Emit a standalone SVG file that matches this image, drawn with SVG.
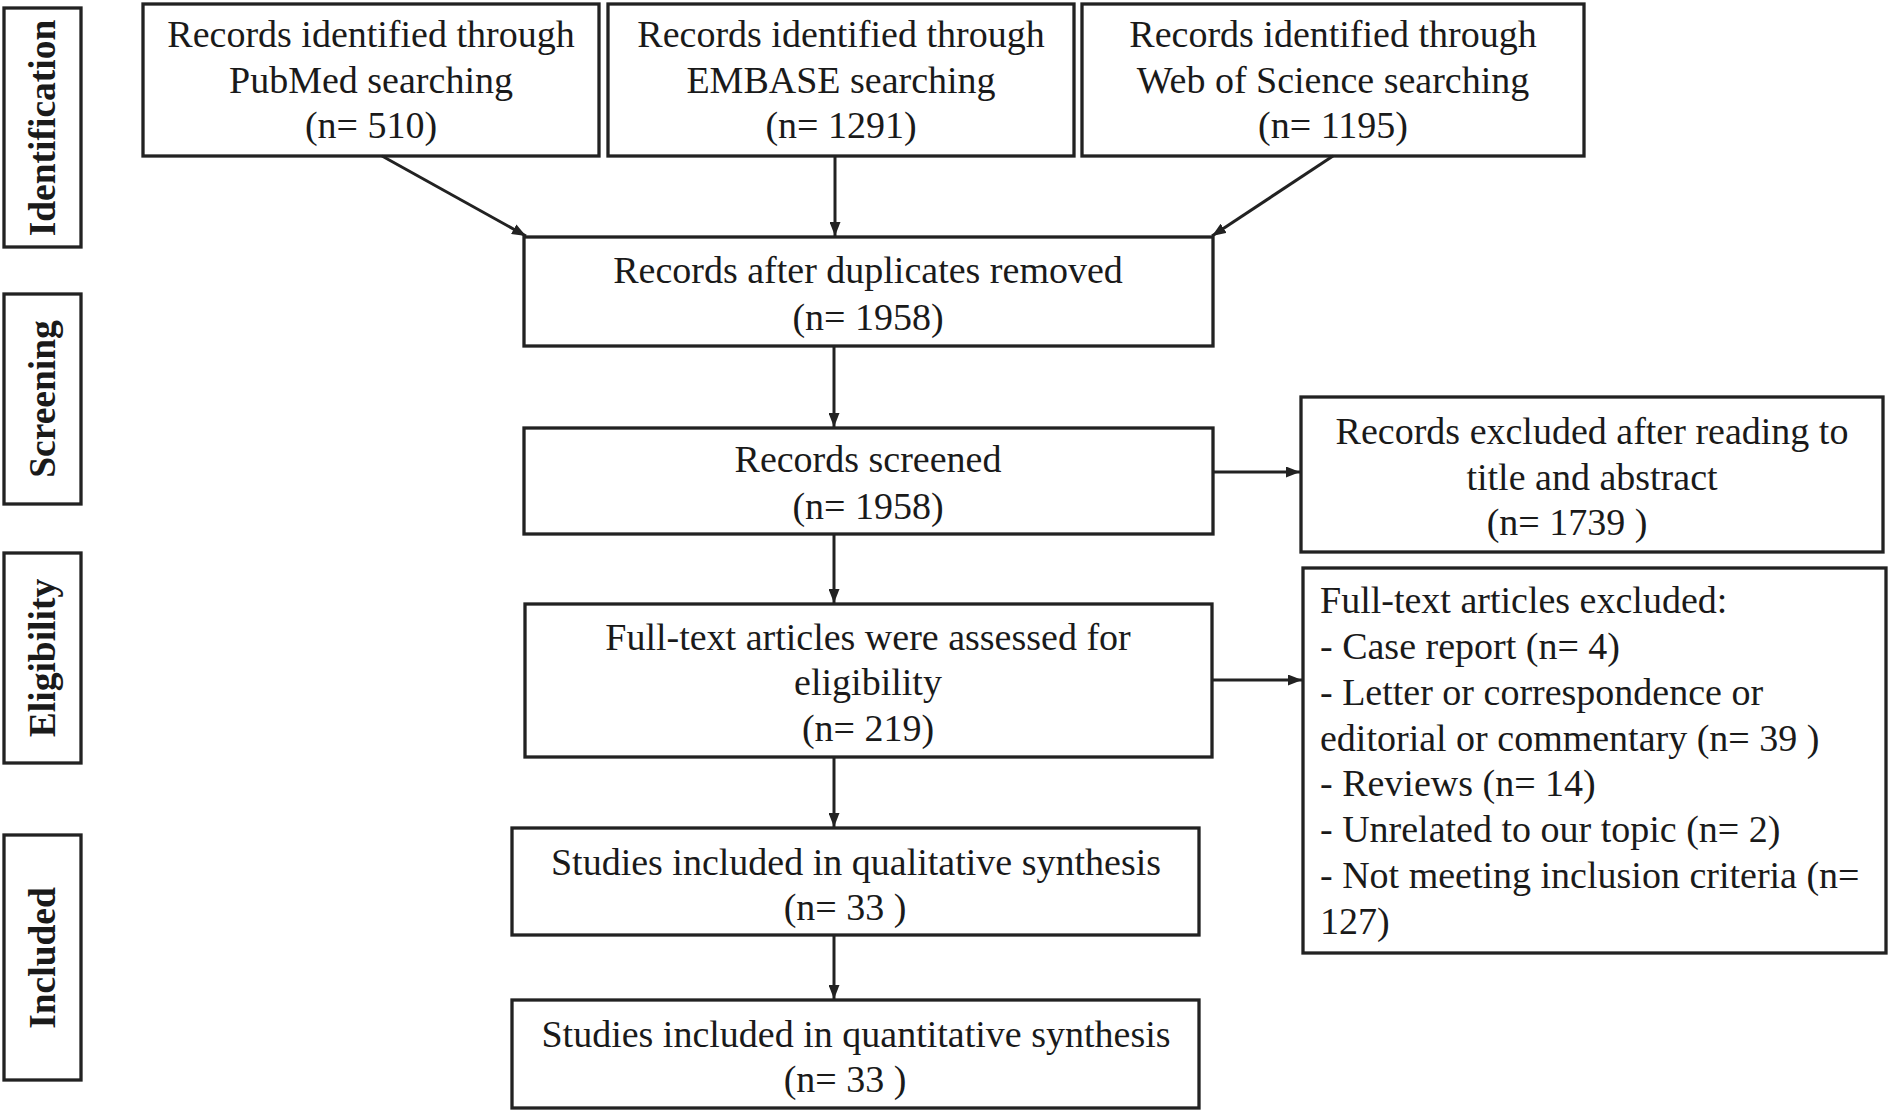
<svg xmlns="http://www.w3.org/2000/svg" width="1890" height="1112" viewBox="0 0 1890 1112">
<defs>
<style>
.box{fill:#fff;stroke:#222;stroke-width:3.3}
.t{font-family:"Liberation Serif","Times New Roman",serif;font-size:38px;fill:#1a1a1a;text-anchor:middle}
.l{font-family:"Liberation Serif","Times New Roman",serif;font-size:38px;fill:#1a1a1a;text-anchor:start}
.side{font-family:"Liberation Serif","Times New Roman",serif;font-size:37.5px;font-weight:bold;fill:#1a1a1a;text-anchor:middle}
.c{stroke:#222;stroke-width:3;fill:none;marker-end:url(#ah)}
</style>
<marker id="ah" viewBox="0 0 14 11" refX="14" refY="5.5" markerWidth="14" markerHeight="11" markerUnits="userSpaceOnUse" orient="auto">
<path d="M0,0 L14,5.5 L0,11 z" fill="#222"/>
</marker>
</defs>
<rect width="1890" height="1112" fill="#fff"/>

<g id="stage-identification">
<rect class="box" x="4" y="8" width="77" height="239"/>
<text class="side" transform="translate(55,128) rotate(-90)">Identification</text>
</g>
<g id="stage-screening">
<rect class="box" x="4" y="294" width="77" height="210"/>
<text class="side" transform="translate(55,399) rotate(-90)">Screening</text>
</g>
<g id="stage-eligibility">
<rect class="box" x="4" y="553" width="77" height="210"/>
<text class="side" transform="translate(55,658) rotate(-90)">Eligibility</text>
</g>
<g id="stage-included">
<rect class="box" x="4" y="835" width="77" height="245"/>
<text class="side" transform="translate(55,958) rotate(-90)">Included</text>
</g>

<g id="pubmed">
<rect class="box" x="143" y="4" width="456" height="152"/>
<text class="t" x="371" y="47">Records identified through</text>
<text class="t" x="371" y="93">PubMed searching</text>
<text class="t" x="371" y="138">(n= 510)</text>
</g>
<g id="embase">
<rect class="box" x="608" y="4" width="466" height="152"/>
<text class="t" x="841" y="47">Records identified through</text>
<text class="t" x="841" y="93">EMBASE searching</text>
<text class="t" x="841" y="138">(n= 1291)</text>
</g>
<g id="wos">
<rect class="box" x="1082" y="4" width="502" height="152"/>
<text class="t" x="1333" y="47">Records identified through</text>
<text class="t" x="1333" y="93">Web of Science searching</text>
<text class="t" x="1333" y="138">(n= 1195)</text>
</g>
<g id="dedup">
<rect class="box" x="524" y="237" width="689" height="109"/>
<text class="t" x="868" y="282.5">Records after duplicates removed</text>
<text class="t" x="868" y="330">(n= 1958)</text>
</g>
<g id="screened">
<rect class="box" x="524" y="428" width="689" height="106"/>
<text class="t" x="868" y="471.5">Records screened</text>
<text class="t" x="868" y="518.5">(n= 1958)</text>
</g>
<g id="excluded-screening">
<rect class="box" x="1301" y="397" width="582" height="155"/>
<text class="t" x="1592" y="443.5">Records excluded after reading to</text>
<text class="t" x="1592" y="489.5">title and abstract</text>
<text class="t" x="1567" y="534.5">(n= 1739 )</text>
</g>
<g id="fulltext">
<rect class="box" x="525" y="604" width="687" height="153"/>
<text class="t" x="868" y="649.5">Full-text articles were assessed for</text>
<text class="t" x="868" y="695">eligibility</text>
<text class="t" x="868" y="740.5">(n= 219)</text>
</g>
<g id="excluded-fulltext">
<rect class="box" x="1303" y="568" width="583" height="385"/>
<text class="l" x="1320" y="613">Full-text articles excluded:</text>
<text class="l" x="1320" y="659">- Case report (n= 4)</text>
<text class="l" x="1320" y="704.5">- Letter or correspondence or</text>
<text class="l" x="1320" y="750.5">editorial or commentary (n= 39 )</text>
<text class="l" x="1320" y="796">- Reviews (n= 14)</text>
<text class="l" x="1320" y="842">- Unrelated to our topic (n= 2)</text>
<text class="l" x="1320" y="888">- Not meeting inclusion criteria (n=</text>
<text class="l" x="1320" y="933.5">127)</text>
</g>
<g id="qualitative">
<rect class="box" x="512" y="828" width="687" height="107"/>
<text class="t" x="856" y="874.5">Studies included in qualitative synthesis</text>
<text class="t" x="845" y="919.5">(n= 33 )</text>
</g>
<g id="quantitative">
<rect class="box" x="512" y="1000" width="687" height="108"/>
<text class="t" x="856" y="1047">Studies included in quantitative synthesis</text>
<text class="t" x="845" y="1092">(n= 33 )</text>
</g>

<g id="connectors">
<line class="c" x1="382" y1="156" x2="526" y2="236"/>
<line class="c" x1="835" y1="156" x2="835" y2="236"/>
<line class="c" x1="1333" y1="156" x2="1212" y2="236"/>
<line class="c" x1="834" y1="346" x2="834" y2="427"/>
<line class="c" x1="834" y1="534" x2="834" y2="603"/>
<line class="c" x1="1213" y1="472" x2="1300" y2="472"/>
<line class="c" x1="1212" y1="680" x2="1302" y2="680"/>
<line class="c" x1="834" y1="757" x2="834" y2="827"/>
<line class="c" x1="834" y1="935" x2="834" y2="999"/>
</g>
</svg>
